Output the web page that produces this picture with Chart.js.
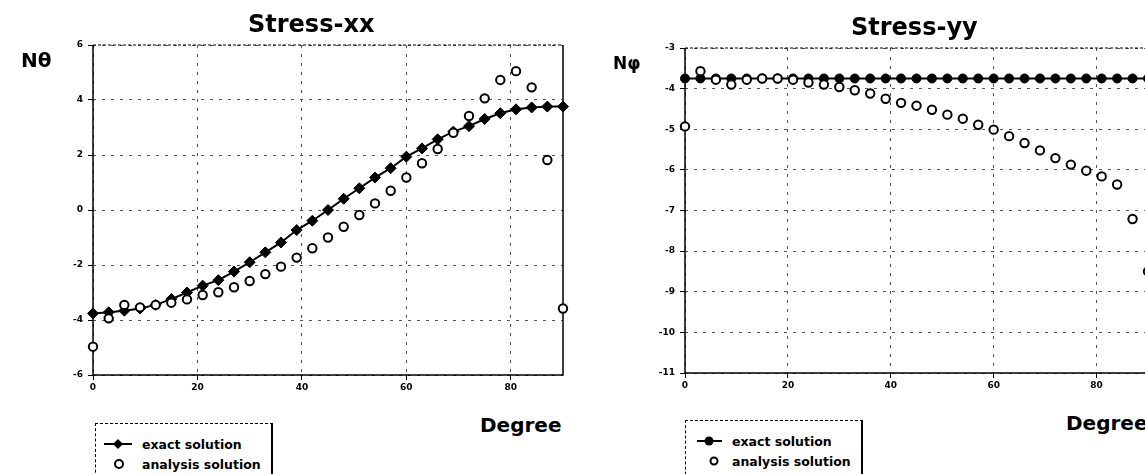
<!DOCTYPE html>
<html>
<head>
<meta charset="utf-8">
<script src="https://cdn.jsdelivr.net/npm/chart.js@4.4.1/dist/chart.umd.min.js"></script>
<style>
  html, body { margin:0; padding:0; background:#fff; width:1145px; height:474px; overflow:hidden; }
  .wrap { position:absolute; }
  .txt { position:absolute; font-family:"DejaVu Sans", sans-serif; font-weight:bold; color:#000; white-space:nowrap; line-height:1; }
  .legend { position:absolute; border-top:1px dashed #000; border-left:1px dashed #000; border-right:2px solid #000; box-sizing:border-box; }
  .legend .row { position:absolute; left:0; height:16px; display:flex; align-items:center; }
  .legend .lab { font-family:"DejaVu Sans", sans-serif; font-weight:bold; font-size:12.5px; color:#000; }
</style>
</head>
<body>
<div class="wrap" style="left:0;top:0;width:575px;height:400px;"><canvas id="cxx"></canvas></div>
<div class="wrap" style="left:590px;top:0;width:570px;height:398px;"><canvas id="cyy"></canvas></div>

<div class="txt" style="left:248px;top:12px;font-size:24px;">Stress-xx</div>
<div class="txt" style="left:851px;top:15px;font-size:24px;">Stress-yy</div>
<div class="txt" style="left:21px;top:50px;font-size:20px;">Nθ</div>
<div class="txt" style="left:613px;top:55px;font-size:17px;">Nφ</div>
<div class="txt" style="left:480px;top:415px;font-size:20px;">Degree</div>
<div class="txt" style="left:1066px;top:413px;font-size:20px;">Degree</div>

<div class="legend" style="left:95px;top:423px;width:178px;height:60px;">
  <div class="row" style="top:12px;">
    <svg width="40" height="16" style="margin-left:6px"><line x1="2" y1="8" x2="30" y2="8" stroke="#000" stroke-width="2"/><polygon points="16,3 21,8 16,13 11,8" fill="#000"/></svg>
    <span class="lab">exact solution</span>
  </div>
  <div class="row" style="top:32px;">
    <svg width="40" height="16" style="margin-left:6px"><circle cx="17" cy="8" r="4" fill="#fff" stroke="#000" stroke-width="2"/></svg>
    <span class="lab">analysis solution</span>
  </div>
</div>
<div class="legend" style="left:685px;top:420px;width:178px;height:60px;">
  <div class="row" style="top:12px;">
    <svg width="40" height="16" style="margin-left:6px"><line x1="5" y1="8" x2="30" y2="8" stroke="#000" stroke-width="2"/><circle cx="17" cy="8" r="4.5" fill="#000"/></svg>
    <span class="lab">exact solution</span>
  </div>
  <div class="row" style="top:32px;">
    <svg width="40" height="16" style="margin-left:6px"><circle cx="22" cy="8" r="3.5" fill="#fff" stroke="#000" stroke-width="2"/></svg>
    <span class="lab">analysis solution</span>
  </div>
</div>

<script>
// ---- data ----
const degrees = [0,3,6,9,12,15,18,21,24,27,30,33,36,39,42,45,48,51,54,57,60,63,66,69,72,75,78,81,84,87,90];

const xxExact = [-3.76,-3.72,-3.66,-3.58,-3.45,-3.24,-3.00,-2.75,-2.55,-2.24,-1.90,-1.54,-1.18,-0.73,-0.39,0.00,0.41,0.79,1.18,1.52,1.94,2.24,2.57,2.85,3.05,3.31,3.52,3.66,3.73,3.76,3.76];
const xxAnalysis = [-4.97,-3.94,-3.45,-3.54,-3.45,-3.37,-3.25,-3.09,-2.99,-2.81,-2.58,-2.33,-2.06,-1.73,-1.39,-1.00,-0.61,-0.18,0.24,0.70,1.18,1.70,2.22,2.81,3.42,4.06,4.73,5.05,4.46,1.82,-3.58];

const yyExact = [-3.75,-3.75,-3.75,-3.75,-3.75,-3.75,-3.75,-3.75,-3.75,-3.75,-3.75,-3.75,-3.75,-3.75,-3.75,-3.75,-3.75,-3.75,-3.75,-3.75,-3.75,-3.75,-3.75,-3.75,-3.75,-3.75,-3.75,-3.75,-3.75,-3.75,-3.75];
const yyAnalysis = [-4.93,-3.57,-3.78,-3.90,-3.78,-3.75,-3.75,-3.78,-3.85,-3.90,-3.96,-4.04,-4.12,-4.25,-4.35,-4.42,-4.52,-4.64,-4.74,-4.89,-5.01,-5.17,-5.34,-5.52,-5.71,-5.87,-6.02,-6.16,-6.36,-7.21,-8.50];

const xTicks = [0,20,40,60,80];
const xxYTicks = [-6,-4,-2,0,2,4,6];
const yyYTicks = [-11,-10,-9,-8,-7,-6,-5,-4,-3];

// ---- chart builder ----
const framePlugin = {
  id: 'frame',
  beforeDatasetsDraw(chart) {
    const {ctx, chartArea:{left, top, right, bottom}} = chart;
    ctx.save();
    ctx.strokeStyle = '#000';
    ctx.lineWidth = 1.5;
    ctx.beginPath();
    ctx.moveTo(left, top); ctx.lineTo(left, bottom); ctx.lineTo(right, bottom); ctx.lineTo(right, top);
    ctx.stroke();
    ctx.setLineDash([3, 2]);
    ctx.lineWidth = 1.2;
    ctx.beginPath(); ctx.moveTo(left, top); ctx.lineTo(right, top); ctx.stroke();
    ctx.restore();
  }
};

function makeChart(id, exact, analysis, yTicks, exactStyle, yWidth, padTop) {
  const tickFont = {family: 'DejaVu Sans', weight: 'bold', size: 9};
  return new Chart(document.getElementById(id), {
    type: 'line',
    data: {
      datasets: [
        {
          label: 'exact solution',
          data: degrees.map((d, i) => ({x: d, y: exact[i]})),
          borderColor: '#000', borderWidth: 2,
          backgroundColor: '#000',
          pointStyle: exactStyle, pointRadius: exactStyle === 'rectRot' ? 5.5 : 4.5,
          pointBackgroundColor: '#000', pointBorderColor: '#000', pointBorderWidth: 1,
          tension: 0, clip: false, order: 1
        },
        {
          label: 'analysis solution',
          data: degrees.map((d, i) => ({x: d, y: analysis[i]})),
          showLine: false,
          pointStyle: 'circle', pointRadius: 4.2,
          pointBackgroundColor: '#fff', pointBorderColor: '#000', pointBorderWidth: 2,
          clip: false, order: 0
        }
      ]
    },
    options: {
      responsive: true, maintainAspectRatio: false, animation: false,
      layout: {padding: {left: 0, top: padTop, right: 12, bottom: 0}},
      plugins: {legend: {display: false}, tooltip: {enabled: false}},
      scales: {
        x: {
          type: 'linear', min: 0, max: 90,
          afterBuildTicks: s => { s.ticks = xTicks.map(v => ({value: v})); },
          afterFit: s => { s.height = 25; },
          ticks: {font: tickFont, color: '#000', padding: 2, maxRotation: 0},
          grid: {color: '#555', lineWidth: 1, tickColor: '#000', tickLength: 5, tickBorderDash: []},
          border: {display: false, dash: [3, 6]}
        },
        y: {
          type: 'linear', min: yTicks[0], max: yTicks[yTicks.length - 1],
          afterBuildTicks: s => { s.ticks = yTicks.map(v => ({value: v})); },
          afterFit: s => { s.width = yWidth; },
          ticks: {font: tickFont, color: '#000', padding: 5},
          grid: {color: '#555', lineWidth: 1, tickColor: '#000', tickLength: 5, tickBorderDash: []},
          border: {display: false, dash: [3, 6]}
        }
      }
    },
    plugins: [framePlugin]
  });
}

makeChart('cxx', xxExact, xxAnalysis, xxYTicks, 'rectRot', 93, 45);
makeChart('cyy', yyExact, yyAnalysis, yyYTicks, 'circle', 95, 48);
</script>
</body>
</html>
